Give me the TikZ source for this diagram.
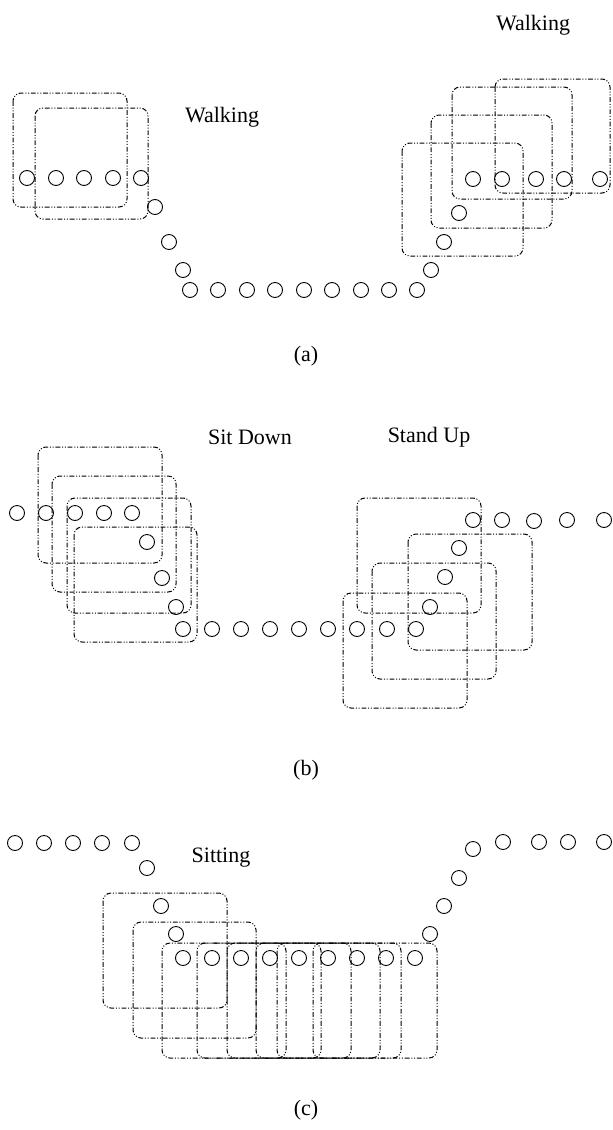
\documentclass[tikz,border=0pt]{standalone}
\usepackage{fontspec}
\setmainfont{Liberation Serif}
\begin{document}
\begin{tikzpicture}[x=0.5pt,y=-0.5pt,
  dot/.style={circle,draw,minimum size=7.5pt,inner sep=0pt,line width=0.45pt},
  win/.style={draw,line width=0.5pt,rounded corners=4pt,
    dash pattern=on 2.4pt off 0.9pt on 0.5pt off 0.9pt on 0.5pt off 0.9pt},
  lbl/.style={font=\fontsize{11}{13}\selectfont,inner sep=0pt}]
\useasboundingbox (0,0) rectangle (612,1130);
% ---------- panel (a)
\foreach \i/\x/\y in {1/27/178,2/56/178,3/84/178,4/113/178,5/141/178,
  6/155/207,7/169/242,8/183/270,
  9/190/290,10/218/290,11/247/290,12/275/290,13/304/290,14/332/290,15/361/290,16/389/290,17/417/290,
  18/431/270,19/444/242,20/459/213,
  21/473/179,22/502/179,23/536/179,24/564/179,25/600/179}
  \node[dot] (a\i) at (\x,\y) {};
\draw[win] (13,93) rectangle (127,207);
\draw[win] (35,108) rectangle (148,219);
\draw[win] (495,79) rectangle (610,193);
\draw[win] (452,87) rectangle (572,199);
\draw[win] (431,115) rectangle (552,228);
\draw[win] (402,143) rectangle (523,256);
\node[lbl] (wa1) at (222,117) {Walking};
\node[lbl] (wa2) at (533,25) {Walking};
\node[lbl] (capa) at (306,356) {(a)};
% ---------- panel (b)
\foreach \i/\x/\y in {1/17/513,2/46/513,3/75/513,4/104/513,5/132/513,
  6/147/542,7/162/578,8/176/607,
  9/183/629,10/212/629,11/241/629,12/270/629,13/299/629,14/328/629,15/357/629,16/387/629,17/416/629,
  18/430/607,19/445/577,20/459/548,
  21/473/520,22/502/520,23/534/521,24/567/520,25/604/520}
  \node[dot] (b\i) at (\x,\y) {};
\draw[win] (38,447) rectangle (162,563);
\draw[win] (52,476) rectangle (176,592);
\draw[win] (67,498) rectangle (191,613);
\draw[win] (74,527) rectangle (197,642);
\draw[win] (357,498) rectangle (481,613);
\draw[win] (408,534) rectangle (532,650);
\draw[win] (372,563) rectangle (496,679);
\draw[win] (343,593) rectangle (467,708);
\node[lbl] (sd) at (250,437) {Sit Down};
\node[lbl] (su) at (429,437) {Stand Up};
\node[lbl] (capb) at (306,770) {(b)};
% ---------- panel (c)
\foreach \i/\x/\y in {1/15/843,2/44/843,3/73/843,4/102/843,5/132/843,
  6/147/868,7/161/906,8/176/934,
  9/183/958,10/212/958,11/241/958,12/270/958,13/299/958,14/328/958,15/357/958,16/386/958,17/415/958,
  18/430/934,19/444/906,20/459/878,21/473/849,
  22/503/842,23/539/842,24/568/842,25/604/842}
  \node[dot] (c\i) at (\x,\y) {};
\draw[win] (103,893) rectangle (227,1008);
\draw[win] (133,922) rectangle (256,1038);
\foreach \l in {162,197,227,256,277,313}
  \draw[win] (\l,943) rectangle (\l+124,1058);
\node[lbl] (sit) at (221,858) {Sitting};
\node[lbl] (capc) at (306,1110) {(c)};
\end{tikzpicture}
\end{document}
